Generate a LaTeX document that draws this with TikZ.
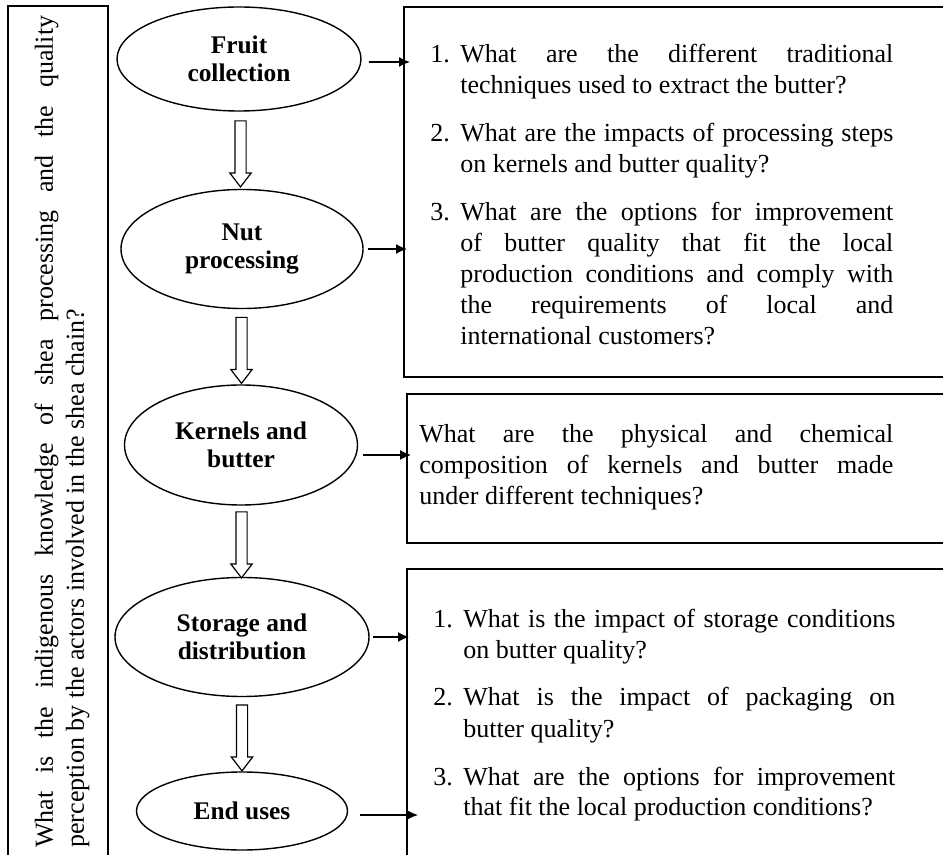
\documentclass[tikz,border=0pt]{standalone}
\usepackage{fontspec}
\setmainfont{Liberation Serif}
\usetikzlibrary{shapes.geometric,shapes.arrows,arrows.meta}

\newcommand{\qitem}[2]{\hangindent=15pt\hangafter=1\noindent\makebox[15pt][l]{#1}#2\par\vspace{8.5pt}}

\tikzset{
    stage/.style={ellipse, draw, line width=0.7pt, inner sep=0pt, align=center,
        font=\fontsize{12.7}{13.8}\selectfont\bfseries},
    qbox/.style={draw, line width=0.8pt, inner sep=0pt, anchor=north west},
    qtext/.style={inner sep=0pt, anchor=base west, align=justify,
        font=\fontsize{13}{15.5}\selectfont},
    smallarrow/.style={-{Latex[length=5.5pt,width=5pt]}, line width=0.7pt},
    hollowarrow/.style={single arrow, draw, line width=0.6pt, inner sep=2.5pt,
        shape border rotate=270, minimum height=33pt,
        single arrow head extend=2.5pt, single arrow tip angle=75}
}

\begin{document}
\begin{tikzpicture}[x=0.5pt, y=-0.5pt]
    \useasboundingbox (0,0) rectangle (943,855);
    \clip (0,0) rectangle (943,855);

    % Main question (left)
    \draw[line width=0.8pt] (8,6) rectangle (108,880);
    \node[qtext, rotate=90, text width=416pt] (mainq) at (53,848)
        {What is the indigenous knowledge of shea processing and the quality\linebreak
         perception by the actors involved in the shea chain?};

    % Stages of the chain
    \node[stage, minimum width=122pt, minimum height=52pt] (fruit) at (239,59) {Fruit\\collection};
    \node[stage, minimum width=121pt, minimum height=59.5pt] (nut) at (242,249) {Nut\\processing};
    \node[stage, minimum width=116.5pt, minimum height=60pt] (kernels) at (241,445) {Kernels and\\butter};
    \node[stage, minimum width=127pt, minimum height=59.5pt] (storage) at (242,637) {Storage and\\distribution};
    \node[stage, minimum width=105.5pt, minimum height=39pt] (enduse) at (242,811) {End uses};

    % Hollow arrows between stages
    \foreach \a/\b in {fruit/nut, nut/kernels, kernels/storage, storage/enduse}
        \path (\a.south) -- (\b.north) node[midway, hollowarrow] (down-\a) {};

    % Question boxes
    \node[qbox, minimum width=280pt, minimum height=185pt] (box1) at (403,6) {};
    \node[qbox, minimum width=280pt, minimum height=74.5pt] (box2) at (406,393) {};
    \node[qbox, minimum width=280pt, minimum height=160pt] (box3) at (406,568) {};

    \node[qtext, text width=231.5pt] (q1) at (430,63) {%
        \qitem{1.}{What are the different traditional\linebreak techniques used to extract the butter?}%
        \qitem{2.}{What are the impacts of processing steps\linebreak on kernels and butter quality?}%
        \qitem{3.}{What are the options for improvement\linebreak of butter quality that fit the local\linebreak
            production conditions and comply with\linebreak the requirements of local and\linebreak
            international customers?}};
    \node[qtext, text width=237pt] (q2) at (419,443)
        {What are the physical and chemical\linebreak composition of kernels and butter made\linebreak
         under different techniques?};
    \node[qtext, text width=231pt] (q3) at (433,627) {%
        \qitem{1.}{What is the impact of storage conditions\linebreak on butter quality?}%
        \qitem{2.}{What is the impact of packaging on\linebreak butter quality?}%
        \qitem{3.}{What are the options for improvement\linebreak that fit the local production conditions?}};

    % Arrows from stages to questions
    \foreach \s/\b/\dx/\dy in {fruit/box1/3.5/-1.5, nut/box1/2/0, kernels/box2/2.5/-5,
                               storage/box3/1.5/0, enduse/box3/6/-2}
        \draw[smallarrow] ([xshift=\dx pt, yshift=\dy pt]\s.east)
            -- ([xshift=\dx pt, yshift=\dy pt]\s.east -| \b.west);
\end{tikzpicture}
\end{document}
